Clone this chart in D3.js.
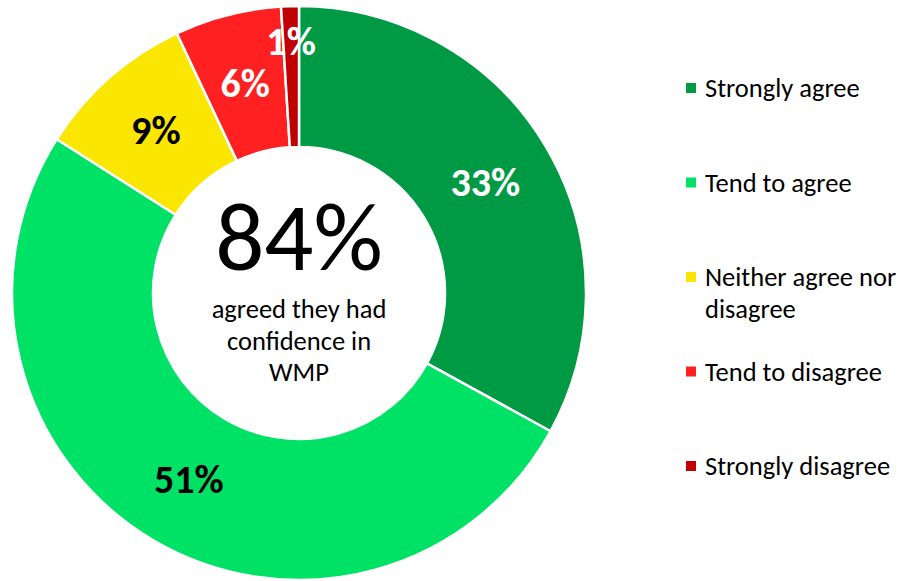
<!DOCTYPE html>
<html>
<head>
<meta charset="utf-8">
<script src="https://cdn.jsdelivr.net/npm/d3@7"></script>
<style>
  html, body { margin: 0; padding: 0; background: #fff; }
  svg { display: block; font-family: Calibri, Carlito, "Open Sans", Lato, sans-serif; }
</style>
</head>
<body>
<svg id="chart" width="902" height="581"></svg>
<script>
// Survey responses: confidence in WMP
const categories = ["Strongly agree", "Tend to agree", "Neither agree nor disagree", "Tend to disagree", "Strongly disagree"];
const legendLines = [["Strongly agree"], ["Tend to agree"], ["Neither agree nor", "disagree"], ["Tend to disagree"], ["Strongly disagree"]];
const values = [33, 51, 9, 6, 1];
const colors = ["#009A44", "#00E266", "#FAE600", "#FF2121", "#C00000"];
const labelColors = ["#fff", "#000", "#000", "#fff", "#fff"];
const headline = "84%";
const headlineText = ["agreed they had", "confidence in", "WMP"];

const svg = d3.select("#chart");
const cx = 299, cy = 293;
const outerR = 287, innerR = 146;

const pie = d3.pie().sort(null).value(d => d)(values);
const arc = d3.arc().innerRadius(innerR).outerRadius(outerR);

const g = svg.append("g").attr("transform", `translate(${cx},${cy})`);

g.selectAll("path.slice")
  .data(pie)
  .join("path")
  .attr("class", "slice")
  .attr("d", arc)
  .attr("fill", (d, i) => colors[i])
  .attr("stroke", "#fff")
  .attr("stroke-width", 2.5)
  .attr("stroke-linejoin", "miter");

// Percentage labels; very thin slices get pushed toward the outer edge
const labelArc = d3.arc().innerRadius(innerR).outerRadius(outerR);
const farArc = d3.arc().innerRadius(outerR - 74).outerRadius(outerR + 4);
g.selectAll("text.pct")
  .data(pie)
  .join("text")
  .attr("class", "pct")
  .attr("transform", d => {
    const c = (d.endAngle - d.startAngle) < 0.15 ? farArc.centroid(d) : labelArc.centroid(d);
    return `translate(${c[0]},${c[1]})`;
  })
  .attr("text-anchor", "middle")
  .attr("dominant-baseline", "central")
  .attr("font-size", 40)
  .attr("font-weight", 700)
  .attr("fill", (d, i) => labelColors[i])
  .text(d => d.data + "%");

// Centre statement
g.append("text")
  .attr("x", 0).attr("y", -23)
  .attr("text-anchor", "middle")
  .attr("font-size", 97)
  .attr("fill", "#000")
  .text(headline);

g.selectAll("text.sub")
  .data(headlineText)
  .join("text")
  .attr("class", "sub")
  .attr("x", 0)
  .attr("y", (d, i) => 25 + i * 31.5)
  .attr("text-anchor", "middle")
  .attr("font-size", 26.5)
  .attr("fill", "#000")
  .text(d => d);

// Legend
const legendY = d3.scalePoint().domain(categories).range([88, 466]);
const legend = svg.append("g").attr("transform", "translate(686,0)");
const item = legend.selectAll("g.item")
  .data(categories)
  .join("g")
  .attr("class", "item")
  .attr("transform", d => `translate(0,${legendY(d)})`);

item.append("rect")
  .attr("x", 0).attr("y", -5)
  .attr("width", 10).attr("height", 10)
  .attr("fill", (d, i) => colors[i]);

item.append("text")
  .attr("x", 19)
  .attr("font-size", 26.5)
  .attr("fill", "#000")
  .selectAll("tspan")
  .data((d, i) => legendLines[i])
  .join("tspan")
  .attr("x", 19)
  .attr("y", (d, j) => 9 + j * 32)
  .text(d => d);
</script>
</body>
</html>
